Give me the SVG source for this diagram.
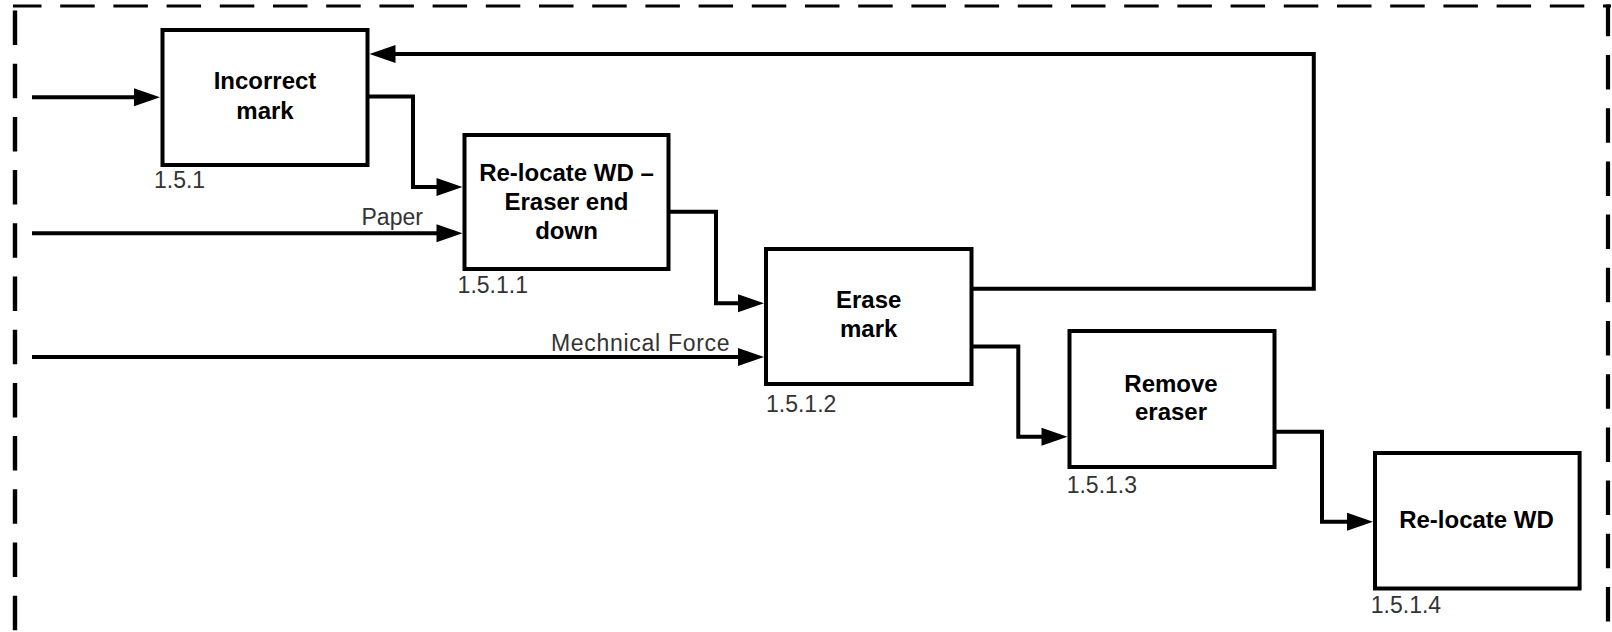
<svg xmlns="http://www.w3.org/2000/svg" width="1612" height="632" viewBox="0 0 1612 632">
<style>
.box{fill:#fff;stroke:#000;stroke-width:4}
.t{font-family:"Liberation Sans",Arial,sans-serif;font-weight:bold;font-size:24px;fill:#000;text-anchor:middle}
.n{font-family:"Liberation Sans",Arial,sans-serif;font-size:23px;fill:#333}
.c{fill:none;stroke:#000;stroke-width:4;stroke-linejoin:miter;marker-end:url(#ah)}
.frame{fill:none;stroke:#000;stroke-dasharray:34.5 18.7}
</style>
<defs>
<marker id="ah" markerUnits="userSpaceOnUse" markerWidth="28" markerHeight="18" refX="2" refY="9" orient="auto" overflow="visible">
<path d="M0,0 L26,9 L0,18 z" fill="#000"/>
</marker>
</defs>
<rect width="1612" height="632" fill="#fff"/>
<g id="frame">
<line class="frame" x1="13" y1="6" x2="1611" y2="6" stroke-width="3.2" stroke-dashoffset="6"/>
<line class="frame" x1="15" y1="10.5" x2="15" y2="640" stroke-width="4.4"/>
<line class="frame" x1="1608" y1="4.5" x2="1608" y2="640" stroke-width="4.2" stroke-dashoffset="2.7"/>
</g>
<g id="connectors">
<path class="c" d="M32,97.3 H136"/>
<path class="c" d="M367.5,96.5 H413 V187 H438.5"/>
<path class="c" d="M32,233.3 H438.5"/>
<path class="c" d="M668.5,211.7 H716 V303.3 H740"/>
<path class="c" d="M32,357 H740"/>
<path class="c" d="M971.5,346.5 H1018.3 V436.7 H1043.5"/>
<path class="c" d="M971.5,288.7 H1313.8 V54 H393.5"/>
<path class="c" d="M1274.5,431.7 H1322 V521.7 H1349"/>
<text class="n" x="361.5" y="225">Paper</text>
<text class="n" x="551" y="350.7" letter-spacing="0.7">Mechnical Force</text>
</g>
<g id="n151">
<rect class="box" x="162.5" y="30" width="205" height="135"/>
<text class="t" x="265" y="89.3">Incorrect</text>
<text class="t" x="265" y="119.3">mark</text>
<text class="n" x="154" y="188.3">1.5.1</text>
</g>
<g id="n1511">
<rect class="box" x="464.5" y="135" width="204" height="134"/>
<text class="t" x="566.5" y="181">Re-locate WD –</text>
<text class="t" x="566.5" y="210">Eraser end</text>
<text class="t" x="566.5" y="238.5">down</text>
<text class="n" x="457.6" y="293.3">1.5.1.1</text>
</g>
<g id="n1512">
<rect class="box" x="766" y="249" width="205.5" height="135"/>
<text class="t" x="868.7" y="308.3">Erase</text>
<text class="t" x="868.7" y="337.3">mark</text>
<text class="n" x="766" y="411.7">1.5.1.2</text>
</g>
<g id="n1513">
<rect class="box" x="1069.5" y="331" width="205" height="136"/>
<text class="t" x="1171" y="391.7">Remove</text>
<text class="t" x="1171" y="420">eraser</text>
<text class="n" x="1066.7" y="493.3">1.5.1.3</text>
</g>
<g id="n1514">
<rect class="box" x="1375" y="453" width="204.6" height="135.5"/>
<text class="t" x="1476.5" y="527.7">Re-locate WD</text>
<text class="n" x="1370.8" y="613">1.5.1.4</text>
</g>
</svg>
